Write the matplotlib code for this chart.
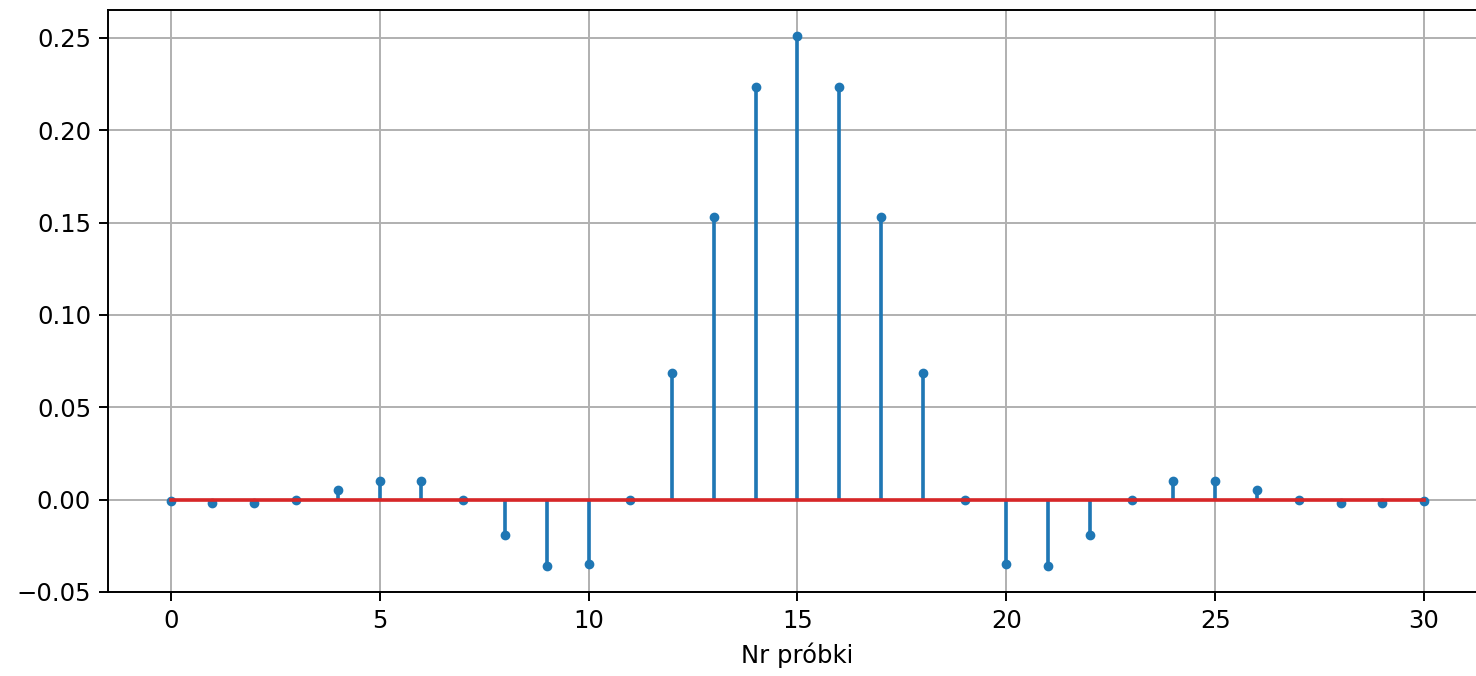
import numpy as np
import matplotlib.pyplot as plt

# Numery próbek i współczynniki filtru
n = list(range(31))
h = [-0.001, -0.002, -0.002, 0.000, 0.005, 0.010, 0.010, 0.000,
     -0.019, -0.0357, -0.0347, 0.000, 0.0685, 0.153, 0.2237, 0.2508,
     0.2237, 0.153, 0.0685, 0.000, -0.0347, -0.0357, -0.019, 0.000,
     0.010, 0.010, 0.005, 0.000, -0.002, -0.002, -0.001]

dpi = 175
fig = plt.figure(figsize=(1476 / dpi, 676 / dpi), dpi=dpi)
# osie wychodzą lekko poza prawą krawędź (jak w oryginalnym zrzucie)
ax = fig.add_axes([0.0732, 0.1243, 1.0073 - 0.0732, 0.9852 - 0.1243])

ax.stem(n, h, markerfmt='C0.')
ax.set_xlabel('Nr próbki')
ax.grid(True)

fig.savefig('out.png', dpi=dpi)
